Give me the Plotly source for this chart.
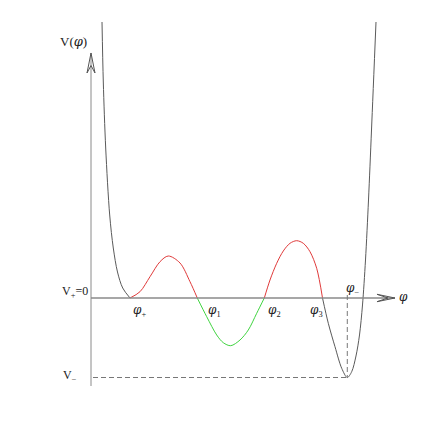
import plotly.graph_objects as go

# Potential V(phi), points (arbitrary units)
phi_left = [0.367, 0.41, 0.49, 0.623, 0.743, 0.883, 1.057, 1.3]
V_left = [9.2, 7.2, 5.0, 2.767, 1.667, 0.867, 0.333, 0.0]

phi_red1 = [1.3, 1.633, 1.967, 2.3, 2.577, 2.967, 3.3, 3.543]
V_red1 = [0.0, 0.21, 0.71, 1.21, 1.4, 1.167, 0.543, 0.0]

phi_green = [3.543, 3.857, 4.19, 4.41, 4.657, 4.967, 5.243, 5.523, 5.777]
V_green = [0.0, -0.623, -1.233, -1.49, -1.59, -1.4, -1.067, -0.51, 0.0]

phi_red2 = [5.777, 5.967, 6.19, 6.41, 6.633, 6.857, 7.077, 7.3, 7.523, 7.717]
V_red2 = [0.0, 0.6, 1.157, 1.567, 1.823, 1.91, 1.823, 1.543, 0.99, 0.0]

phi_right = [7.717, 7.91, 8.133, 8.357, 8.543, 8.69, 8.833, 8.95, 9.05, 9.15, 9.25, 9.35, 9.5]
V_right = [0.0, -0.843, -1.623, -2.343, -2.65, -2.457, -1.933, -1.233, -0.233, 1.267, 3.267, 5.6, 9.2]

phi_minus = 8.543
V_minus = -2.65

PHI = "<span style='font-family:DejaVu Serif'><i>φ</i></span>"
labels_phi = [PHI + "<sub>+</sub>", PHI + "<sub>1</sub>", PHI + "<sub>2</sub>", PHI + "<sub>3</sub>"]
labels_x = [1.6, 4.133, 6.133, 7.5]

CURVE = "#5a5a5a"
RED = "#e03a3a"
GREEN = "#3fd43f"
AXIS = "#8a8a8a"
TXT = "#222222"
FONT = "Liberation Serif"

fig = go.Figure()
for xs, ys, col in [(phi_left, V_left, CURVE), (phi_red1, V_red1, RED),
                    (phi_green, V_green, GREEN), (phi_red2, V_red2, RED),
                    (phi_right, V_right, CURVE)]:
    fig.add_trace(go.Scatter(x=xs, y=ys, mode="lines",
                             line=dict(color=col, width=1, shape="spline", smoothing=0.9),
                             hoverinfo="skip", showlegend=False))

shapes = []
# axes
shapes.append(dict(type="line", x0=0, x1=0, y0=-2.933, y1=8.167, line=dict(color=AXIS, width=1)))
shapes.append(dict(type="line", x0=0, x1=10.133, y0=0, y1=0, line=dict(color=AXIS, width=1.3)))
# arrowheads
shapes.append(dict(type="path", path="M -0.133,7.5 L 0,8.167 L 0.133,7.5 M -0.133,7.5 L 0,7.75 L 0.133,7.5",
                   line=dict(color="#555555", width=1)))
shapes.append(dict(type="path", path="M 9.533,0.123 L 10.133,0 L 9.533,-0.123 M 9.533,0.123 L 9.9,0 L 9.533,-0.123",
                   line=dict(color="#555555", width=1)))
# dashed guides
shapes.append(dict(type="line", x0=phi_minus, x1=phi_minus, y0=0.1, y1=V_minus,
                   line=dict(color="#777777", width=1, dash="5px,3px")))
shapes.append(dict(type="line", x0=0.067, x1=phi_minus, y0=V_minus, y1=V_minus,
                   line=dict(color="#777777", width=1, dash="5px,3px")))

ann = []
def lab(x, y, t, xa="center", size=12):
    ann.append(dict(x=x, y=y, text=t, showarrow=False, xanchor=xa, yanchor="middle",
                    font=dict(family=FONT, size=size, color=TXT)))

lab(-0.6, 8.55, "V(" + PHI + ")", size=13)
lab(-0.05, 0.2, "V<sub>+</sub>=0", xa="right", size=12)
lab(-0.7, -2.6, "V<sub>−</sub>", size=12)
for t, x in zip(labels_phi, labels_x):
    lab(x, -0.42, t, size=12)
lab(8.72, 0.3, PHI + "<sub>−</sub>", size=12)
lab(10.4, 0.03, PHI, size=12)

# page body adds an 8px offset, compensate in ranges
fig.update_layout(width=436, height=436, margin=dict(l=0, r=0, t=0, b=0),
                  paper_bgcolor="white", plot_bgcolor="white",
                  xaxis=dict(range=[-83/30, 353/30], visible=False, fixedrange=True),
                  yaxis=dict(range=[(290-436)/30, 290/30], visible=False, fixedrange=True),
                  shapes=shapes, annotations=ann)
fig.write_html("out.html")
